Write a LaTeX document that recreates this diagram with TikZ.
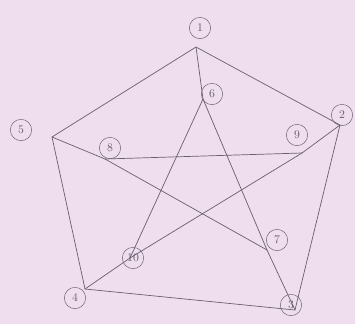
\documentclass[tikz,border=0pt]{standalone}
\usepackage{xcolor}
\usepackage{tikz}
\usetikzlibrary{positioning}
\definecolor{paper}{RGB}{238,222,238}
\definecolor{pencil}{RGB}{105,95,112}

\begin{document}
\begin{tikzpicture}[
  x=0.03cm, y=-0.03cm,
  font=\normalsize,
  vlabel/.style={draw=pencil, circle, minimum size=0.64cm, inner sep=0pt, text=pencil},
  edge/.style={draw=pencil, line width=0.6pt}
]
  \fill[paper] (0,0) rectangle (355,324);

  % vertex points
  \coordinate (v1) at (196,47);
  \coordinate (v2) at (340,125);
  \coordinate (v3) at (295,310);
  \coordinate (v4) at (85,289);
  \coordinate (v5) at (52,137);
  \coordinate (v6) at (203,99);
  \coordinate (v7) at (267,250);
  \coordinate (v8) at (105,159);
  \coordinate (v9) at (302,153);
  \coordinate (v10) at (130,258);

  % circled numbers
  \node[vlabel] (n1) at (200,28) {1};
  \node[vlabel] (n2) at (342,115) {2};
  \node[vlabel] (n3) at (291,305) {3};
  \node[vlabel] (n4) at (75,298) {4};
  \node[vlabel] (n5) at (21,130) {5};
  \node[vlabel] (n6) at (212,94) {6};
  \node[vlabel] (n7) at (277,240) {7};
  \node[vlabel] (n8) at (110,148) {8};
  \node[vlabel] (n9) at (297,135) {9};
  \node[vlabel] (n10) at (133,258) {10};

  % outer cycle
  \draw[edge] (v1) -- (v2) -- (v3) -- (v4) -- (v5) -- (v1);
  % spokes
  \draw[edge] (v1) -- (v6);
  \draw[edge] (v2) -- (v9);
  \draw[edge] (v3) -- (v7);
  \draw[edge] (v4) -- (v10);
  \draw[edge] (v5) -- (v8);
  % inner star
  \draw[edge] (v6) -- (v7);
  \draw[edge] (v7) -- (v8);
  \draw[edge] (v8) -- (v9);
  \draw[edge] (v9) -- (v10);
  \draw[edge] (v10) -- (v6);
\end{tikzpicture}
\end{document}
